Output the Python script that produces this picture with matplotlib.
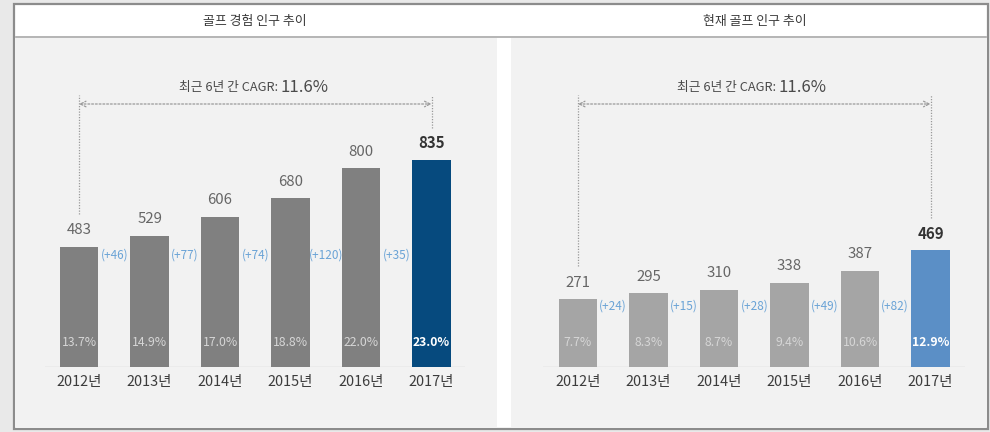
import matplotlib
matplotlib.use("Agg")
import matplotlib.pyplot as plt
from matplotlib.patches import Rectangle
from matplotlib.lines import Line2D

plt.rcParams['font.family'] = ['Noto Sans CJK KR', 'DejaVu Sans']

# ---- data ----
years = ['2012년', '2013년', '2014년', '2015년', '2016년', '2017년']
exp_title = '골프 경험 인구 추이'
exp_values = [483, 529, 606, 680, 800, 835]
exp_incr = ['(+46)', '(+77)', '(+74)', '(+120)', '(+35)']
exp_pct = ['13.7%', '14.9%', '17.0%', '18.8%', '22.0%', '23.0%']

cur_title = '현재 골프 인구 추이'
cur_values = [271, 295, 310, 338, 387, 469]
cur_incr = ['(+24)', '(+15)', '(+28)', '(+49)', '(+82)']
cur_pct = ['7.7%', '8.3%', '8.7%', '9.4%', '10.6%', '12.9%']

cagr_prefix = '최근 6년 간 CAGR: '
cagr_value = '11.6%'

W, H = 990, 432
fig = plt.figure(figsize=(W / 100, H / 100), dpi=100)
fig.patch.set_facecolor('#e9e9e9')


def fx(x):
    return x / W


def fy(y):
    return 1 - y / H


def rect(x0, y0, x1, y1, **kw):
    fig.patches.append(Rectangle((fx(x0), fy(y1)), fx(x1) - fx(x0), fy(y0) - fy(y1),
                                 transform=fig.transFigure, **kw))


# frame
rect(14, 4, 988, 429, facecolor='white', edgecolor='#8c8c8c', linewidth=1.6, zorder=-3)
# gray panels
rect(16, 38, 497, 428, facecolor='#f2f2f2', edgecolor='none', zorder=-2)
rect(511, 38, 986, 428, facecolor='#f2f2f2', edgecolor='none', zorder=-2)
# separator line under titles
fig.lines.append(Line2D([fx(16), fx(986)], [fy(37), fy(37)], transform=fig.transFigure,
                        color='#a8a8a8', linewidth=1.2, zorder=-1))

fig.text(fx(255), fy(22), exp_title, ha='center', va='center', fontsize=9.3,
         color='#3a3a3a', fontweight='medium')
fig.text(fx(755), fy(22), cur_title, ha='center', va='center', fontsize=9.3,
         color='#3a3a3a', fontweight='medium')

SCALE = 0.2475  # px per unit
BASE = 366.5
TOP = 60
YMAX = (BASE - TOP) / SCALE


def px2data(ypx):
    return (BASE - ypx) / SCALE


def make_panel(x_left, x_right, center0, values, incr, pct, colors, last_color,
               incr_ypx, pct_ypx, anchor_px):
    spacing = 70.5
    lo = -(center0 - x_left) / spacing
    hi = lo + (x_right - x_left) / spacing
    ax = fig.add_axes([fx(x_left), fy(BASE), fx(x_right) - fx(x_left), (BASE - TOP) / H])
    ax.set_zorder(2)
    ax.set_xlim(lo, hi)
    ax.set_ylim(0, YMAX)
    ax.axis('off')
    ax.patch.set_alpha(0)
    n = len(values)
    xs = list(range(n))
    bar_colors = [colors] * (n - 1) + [last_color]
    ax.bar(xs, values, width=0.54, color=bar_colors, zorder=2)
    ax.axhline(0, color='#d2d2d2', linewidth=1.0, zorder=1)
    for i, v in enumerate(values):
        last = i == n - 1
        ax.annotate(str(v), xy=(i, v), xytext=(0, 12), textcoords='offset points',
                    ha='center', va='center', fontsize=10.8,
                    color='#333333' if last else '#666666',
                    fontweight='bold' if last else 'normal')
        ax.annotate(years[i], xy=(i, 0), xytext=(0, -11.5), textcoords='offset points',
                    ha='center', va='center', fontsize=10.4, color='#3c3c3c',
                    fontweight='medium')
        ax.text(i, px2data(pct_ypx), pct[i], ha='center', va='center', fontsize=8.8,
                color='white' if last else '#d6d6d6',
                fontweight='bold' if last else 'normal', zorder=3)
    for i, t in enumerate(incr):
        ax.text(i + 0.5, px2data(incr_ypx), t, ha='center', va='center', fontsize=8.5,
                color='#6aa3d6', zorder=3)
    # CAGR annotation
    y_arrow = px2data(104)
    y_top = px2data(95)
    ax.plot([0, 0], [values[0] + 135, y_top], linestyle=(0, (1, 1.2)), color='#9a9a9a',
            linewidth=0.9, clip_on=False)
    ax.plot([n - 1, n - 1], [values[-1] + 130, y_top], linestyle=(0, (1, 1.2)),
            color='#9a9a9a', linewidth=0.9, clip_on=False)
    ax.annotate('', xy=(n - 1, y_arrow), xytext=(0, y_arrow), annotation_clip=False,
                arrowprops=dict(arrowstyle='<->', color='#9a9a9a', linewidth=0.9,
                                linestyle=(0, (1.5, 1.5)), shrinkA=0, shrinkB=0))
    ax_anchor = (anchor_px - center0) / spacing
    ax.text(ax_anchor, px2data(88), cagr_prefix, ha='right', va='center', fontsize=9.2,
            color='#4a4a4a', fontweight='medium', clip_on=False)
    ax.text(ax_anchor, px2data(88), cagr_value, ha='left', va='center', fontsize=12,
            color='#4a4a4a', clip_on=False)
    return ax


make_panel(45, 465, 79, exp_values, exp_incr, exp_pct, '#808080', '#064a7e',
           255, 343, 281)
make_panel(543, 965, 578, cur_values, cur_incr, cur_pct, '#a5a5a5', '#5b8fc6',
           306, 343, 779)

fig.savefig('out.png', dpi=100, facecolor=fig.get_facecolor())
